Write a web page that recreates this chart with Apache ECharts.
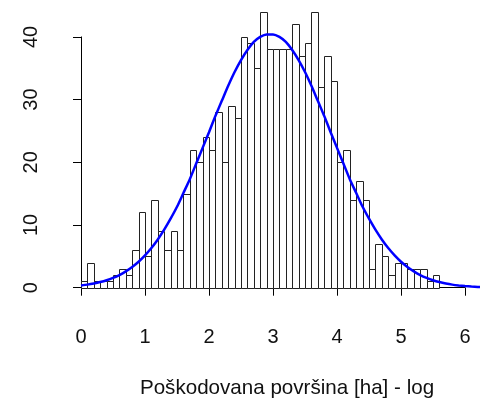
<!DOCTYPE html>
<html><head><meta charset="utf-8">
<script src="https://cdn.jsdelivr.net/npm/echarts@6/dist/echarts.min.js"></script>
<style>html,body{margin:0;padding:0;background:#fff}#c{width:480px;height:401px}</style>
</head><body><div id="c"></div>
<script>
// Histogram: bins of width 0.1 starting at 0
const binStart = 0;
const binWidth = 0.1;
const counts = [1,4,1,1,1,2,3,2,6,12,
                5,14,9,6,9,6,15,22,20,24,
                22,28,20,29,27,40,39,35,44,38,
                38,38,38,42,37,39,44,32,37,33,
                20,22,14,17,14,3,7,5,2,4,
                4,3,3,3,1,2];
// Fitted density curve
const curveX = [0.0,0.1,0.2,0.3,0.4,0.5,0.6,0.7,0.8,0.9,1.0,1.1,1.2,1.3,1.4,1.5,1.6,1.7,1.8,1.9,
                2.0,2.1,2.2,2.3,2.4,2.5,2.6,2.7,2.8,2.9,3.0,3.1,3.2,3.3,3.4,3.5,3.6,3.7,3.8,3.9,
                4.0,4.1,4.2,4.3,4.4,4.5,4.6,4.7,4.8,4.9,5.0,5.1,5.2,5.3,5.4,5.5,5.6,5.7,5.8,5.9,
                6.0,6.1,6.2,6.3];
const curveY = [0.36,0.49,0.67,0.90,1.19,1.56,2.02,2.60,3.30,4.14,5.15,6.32,7.69,9.25,11.0,12.9,15.1,17.3,19.8,22.3,
                24.8,27.4,29.8,32.2,34.4,36.3,37.9,39.2,40.0,40.4,40.4,40.0,39.2,37.9,36.3,34.4,32.2,29.8,27.4,24.8,
                22.3,19.8,17.3,15.1,12.9,11.0,9.25,7.69,6.32,5.15,4.14,3.30,2.60,2.02,1.56,1.19,0.90,0.67,0.49,0.36,
                0.26,0.18,0.13,0.09];
const xMin = 0, xMax = 6, xStep = 1;
const plotXMax = 6.234;           // visible plot extent to the right edge
const yMin = 0, yMax = 40, yStep = 10;
const xTitle = 'Poškodovana površina [ha] - log';

const binData = counts.map((c, i) => [binStart + i * binWidth, binStart + (i + 1) * binWidth, c]);
const curveData = curveX.map((x, i) => [x, curveY[i]]);

const FONT = 'Liberation Sans, Arial, sans-serif';
const chart = echarts.init(document.getElementById('c'), null, {renderer: 'canvas'});
chart.setOption({
  animation: false,
  backgroundColor: '#fff',
  grid: [
    {left: 81, right: 15, top: 36.9, bottom: 113.3, containLabel: false},
    {left: 81, right: 0, top: 36.9, bottom: 113.3, containLabel: false}
  ],
  xAxis: [{
    gridIndex: 0, type: 'value', min: xMin, max: xMax, interval: xStep, offset: 12.3,
    axisLine: {show: true, lineStyle: {color: '#000', width: 1}},
    axisTick: {show: true, length: 8, lineStyle: {color: '#000'}},
    axisLabel: {color: '#111', fontSize: 20, fontFamily: FONT, margin: 27},
    splitLine: {show: false}
  }, {
    gridIndex: 1, type: 'value', min: xMin, max: plotXMax, show: false
  }],
  yAxis: [{
    gridIndex: 0, type: 'value', min: yMin, max: yMax, interval: yStep, offset: 18,
    axisLine: {show: true, lineStyle: {color: '#000', width: 1}},
    axisTick: {show: true, length: 8, lineStyle: {color: '#000'}},
    axisLabel: {color: '#111', fontSize: 20, fontFamily: FONT, margin: 22, rotate: 90},
    splitLine: {show: false}
  }, {
    gridIndex: 1, type: 'value', min: yMin, max: yMax, show: false
  }],
  graphic: [{
    type: 'text', x: 287, y: 388,
    style: {text: xTitle, font: '20.6px ' + FONT, fill: '#111', textAlign: 'center', textVerticalAlign: 'middle'}
  }],
  series: [{
    type: 'custom',
    xAxisIndex: 1, yAxisIndex: 1,
    clip: false,
    data: binData,
    encode: {x: [0, 1], y: 2},
    renderItem: function (params, api) {
      const p0 = api.coord([api.value(0), api.value(2)]);
      const p1 = api.coord([api.value(1), 0]);
      const x0 = Math.round(p0[0]), x1 = Math.round(p1[0]);
      const y0 = Math.round(p0[1]), y1 = Math.round(p1[1]);
      return {
        type: 'rect',
        shape: {x: x0 + 0.5, y: y0 + 0.5, width: x1 - x0, height: y1 - y0},
        style: {fill: '#fff', stroke: '#222', lineWidth: 1}
      };
    }
  }, {
    type: 'line',
    xAxisIndex: 1, yAxisIndex: 1,
    clip: false,
    data: curveData,
    showSymbol: false,
    smooth: 0.2,
    lineStyle: {color: '#0000FF', width: 2.5},
    z: 5
  }]
});
</script></body></html>
